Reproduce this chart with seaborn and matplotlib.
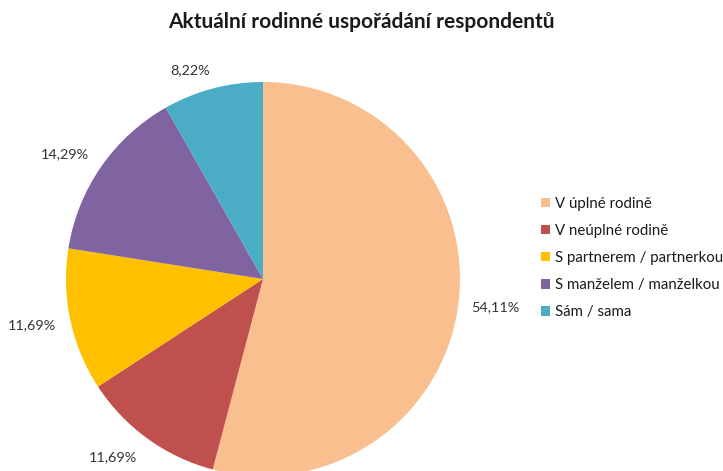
import numpy as np
import matplotlib
matplotlib.use("Agg")
import matplotlib.pyplot as plt
import seaborn as sns
from matplotlib.patches import Patch

categories = ["V úplné rodině", "V neúplné rodině", "S partnerem / partnerkou",
              "S manželem / manželkou", "Sám / sama"]
values = [54.11, 11.69, 11.69, 14.29, 8.22]
labels = ["54,11%", "11,69%", "11,69%", "14,29%", "8,22%"]
colors = ["#F9BF8F", "#C0504D", "#FFC000", "#8064A2", "#4BACC6"]
title = "Aktuální rodinné uspořádání respondentů"

# label nudges in pixels (right, down) to mimic the original placement
label_nudge = [(-5, -3), (-13, -12), (3, -4), (-2, 11), (-15, 12)]

sns.set_theme(style="white")
plt.rcParams["font.family"] = ["Lato", "DejaVu Sans"]

W, H = 723, 471
fig = plt.figure(figsize=(W / 100, H / 100), dpi=100)
cx, cy, R = 263, 279, 197
ax = fig.add_axes([(cx - R) / W, (H - cy - R) / H, 2 * R / W, 2 * R / H])
wedges, _ = ax.pie(values, colors=colors, startangle=90, counterclock=False,
                   radius=1.0, wedgeprops=dict(linewidth=0))
ax.set_xlim(-1, 1)
ax.set_ylim(-1, 1)
ax.set_aspect("equal")
ax.axis("off")
for w in wedges:
    w.set_clip_on(False)

tw, th = 47 / R, 15 / R
for w, lab, (nx, ny) in zip(wedges, labels, label_nudge):
    ang = np.deg2rad((w.theta1 + w.theta2) / 2)
    c, s = np.cos(ang), np.sin(ang)
    r = 1.09 + tw / 2 * abs(c) + th / 2 * abs(s)
    ax.annotate(lab, (r * c, r * s), xytext=(nx, -ny),
                textcoords="offset pixels", ha="center", va="center",
                fontsize=10.4, color="#333333", annotation_clip=False)

fig.suptitle(title, x=0.5, y=1 - 22 / H, va="center", fontsize=15,
             fontweight="bold", color="#1a1a1a")

handles = [Patch(facecolor=c, edgecolor="none") for c in colors]
fig.legend(handles, categories, loc="center left",
           bbox_to_anchor=(541 / W, 1 - 258 / H), frameon=False,
           fontsize=10.8, handlelength=0.6, handleheight=0.6,
           handletextpad=0.35, labelspacing=0.88, borderpad=0,
           borderaxespad=0, labelcolor="#1a1a1a")

fig.savefig("out.png", dpi=100, facecolor="white")
